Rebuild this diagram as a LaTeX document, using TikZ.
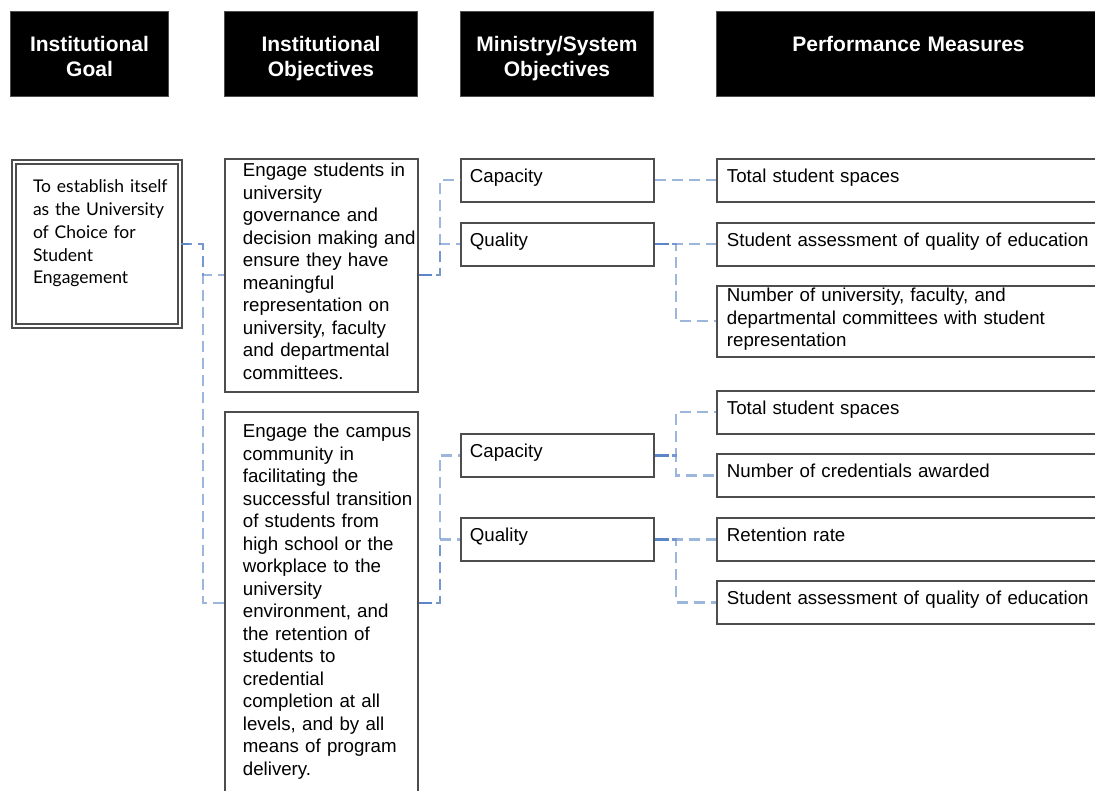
\documentclass[tikz,border=0pt]{standalone}
\usepackage{fontspec}
\setmainfont{Liberation Sans}
\newfontfamily\goalfont{Lato}
\usepackage{tikz}
\usepackage{xcolor}
\usetikzlibrary{calc}

\definecolor{boxline}{HTML}{4D4D4D}
\definecolor{linkblue}{HTML}{5A86C5}

\begin{document}
\begin{tikzpicture}[x=1pt,y=-1pt,
  head/.style={fill=black,draw=boxline,line width=1pt,text=white,anchor=north west,inner sep=0pt,
    font=\bfseries\fontsize{21}{25}\selectfont,align=center,text width=#1,text height=40pt,text depth=45pt},
  card/.style={draw=boxline,line width=1.8pt,anchor=north west,inner sep=0pt,align=left,
    font=\fontsize{18.7}{22.5}\selectfont},
  objbox/.style={card,text width=193pt,text height=18pt,text depth=215pt,
    execute at begin node={\leftskip=18pt\rightskip=-12pt plus 1fil}},
  minbox/.style={card,text width=193pt,text height=24pt,text depth=19pt,execute at begin node={\leftskip=9pt}},
  perfbox/.style={card,text width=384pt,text height=24pt,text depth=19pt,execute at begin node={\leftskip=10pt}},
  link/.style={draw=linkblue,draw opacity=0.6,line width=2.2pt,dash pattern=on 11pt off 6pt},
  stub/.style={draw=linkblue,line width=2.2pt}]
\useasboundingbox (0,0) rectangle (1095,791);

\node[head=158pt] (hgoal) at (10,11) {Institutional\\Goal};
\node[head=193pt] (hobj) at (224,11) {Institutional\\Objectives};
\node[head=193pt] (hmin) at (460,11) {Ministry/System\\Objectives};
\node[head=384pt] (hperf) at (716,11) {Performance Measures};

\node[card,draw=boxline,double=white,line width=2pt,double distance=2pt,text width=166pt,
  text height=31pt,text depth=133pt,font=\goalfont\fontsize{17.5}{22.7}\selectfont,
  execute at begin node={\leftskip=19pt}] (goal) at (13,161)
  {To establish itself\\as the University\\of Choice for\\Student\\Engagement};

\node[objbox] (obj1) at (224,158) {Engage students in\\university\\governance and\\decision making and\\ensure they have\\meaningful\\representation on\\university, faculty\\and departmental\\committees.};
\node[objbox,text height=26pt,text depth=420pt] (obj2) at (224,411) {Engage the campus\\community in\\facilitating the\\successful transition\\of students from\\high school or the\\workplace to the\\university\\environment, and\\the retention of\\students to\\credential\\completion at all\\levels, and by all\\means of program\\delivery.};

\node[minbox] (cap1) at (460,158) {Capacity};
\node[minbox] (qual1) at (460,222) {Quality};
\node[minbox] (cap2) at (460,433) {Capacity};
\node[minbox] (qual2) at (460,517) {Quality};

\node[perfbox] (tot1) at (716,158) {Total student spaces};
\node[perfbox] (sa1) at (716,222) {Student assessment of quality of education};
\node[perfbox,text height=16pt,text depth=55pt] (num1) at (716,285) {Number of university, faculty, and\\departmental committees with student\\representation};
\node[perfbox] (tot2) at (716,390) {Total student spaces};
\node[perfbox] (cred) at (716,453) {Number of credentials awarded};
\node[perfbox] (ret) at (716,517) {Retention rate};
\node[perfbox] (sa2) at (716,580) {Student assessment of quality of education};

\coordinate (obj2in) at ($(obj2.north west)+(0,192)$);
\coordinate (obj2out) at ($(obj2.north east)+(0,192)$);

\draw[stub] (goal.east) -- ++(8,0);
\draw[link] (goal.east) -- ++(22,0) |- (obj1.west);
\draw[link] (goal.east) -- ++(22,0) |- (obj2in);

\draw[stub] (obj1.east) -- ++(13,0);
\draw[link] (obj1.east) -- ++(21,0) |- (cap1.west);
\draw[link] (obj1.east) -- ++(21,0) |- (qual1.west);
\draw[stub] (obj2out) -- ++(13,0);
\draw[link] (obj2out) -- ++(21,0) |- (cap2.west);
\draw[link] (obj2out) -- ++(21,0) |- (qual2.west);

\draw[link] (cap1.east) -- (tot1.west);
\draw[stub] (qual1.east) -- ++(14,0);
\draw[link] (qual1.east) -- ++(21,0) |- (sa1.west);
\draw[link] (qual1.east) -- ++(21,0) |- (num1.west);
\draw[stub] (cap2.east) -- ++(14,0);
\draw[link] (cap2.east) -- ++(21,0) |- (tot2.west);
\draw[link] (cap2.east) -- ++(21,0) |- (cred.west);
\draw[stub] (qual2.east) -- ++(14,0);
\draw[link] (qual2.east) -- ++(21,0) |- (ret.west);
\draw[link] (qual2.east) -- ++(21,0) |- (sa2.west);
\end{tikzpicture}
\end{document}
